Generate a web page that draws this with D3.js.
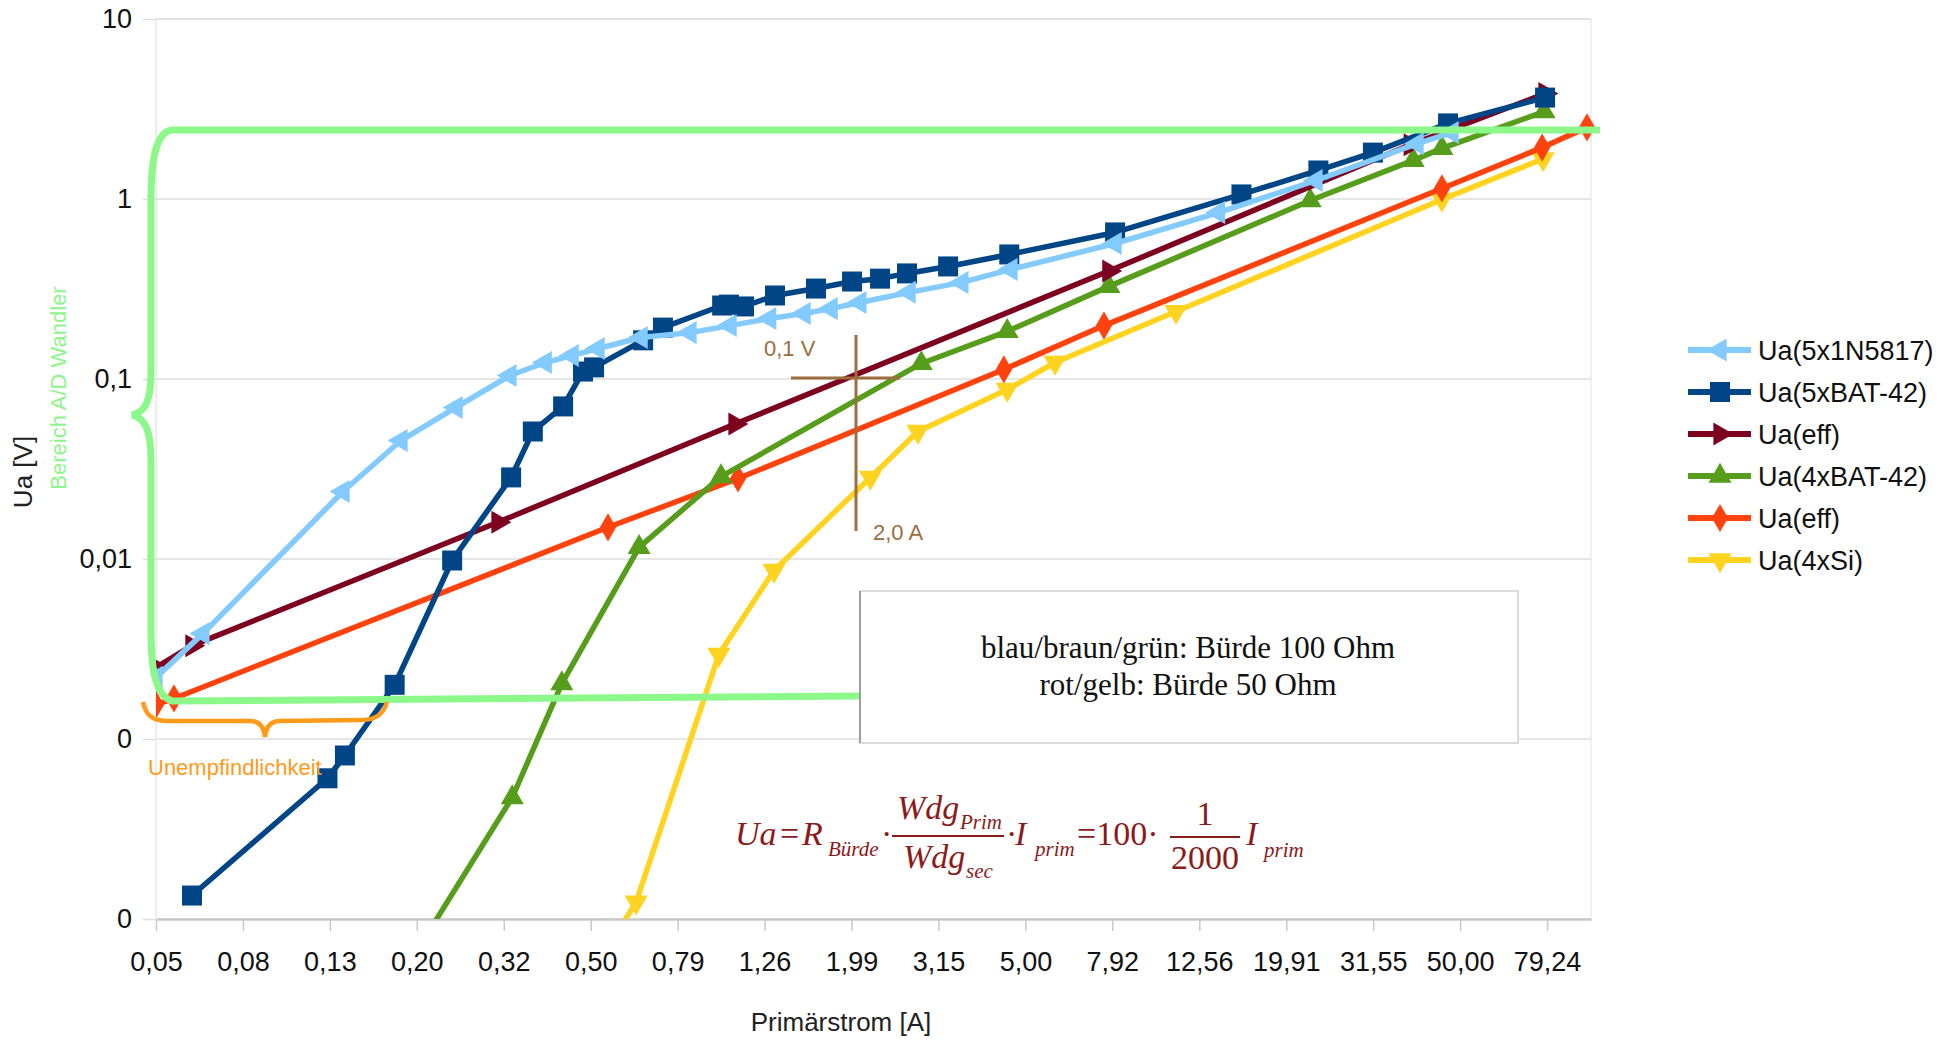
<!DOCTYPE html>
<html>
<head>
<meta charset="utf-8">
<script src="https://cdn.jsdelivr.net/npm/d3@7"></script>
<style>
  body { margin: 0; background: #ffffff; }
  svg { display: block; }
</style>
</head>
<body>
<svg id="chart" width="1954" height="1040"></svg>
<script>
// ---------------- data ----------------
const seriesNames = ["Ua(5x1N5817)", "Ua(5xBAT-42)", "Ua(eff)", "Ua(4xBAT-42)", "Ua(eff)", "Ua(4xSi)"];

const currentLightBlue = [0.05, 0.0641, 0.1346, 0.183, 0.245, 0.326, 0.393, 0.453, 0.520, 0.653, 0.846, 1.046, 1.29, 1.548, 1.786, 2.08, 2.70, 3.57, 4.63, 8.04, 13.9, 23.3, 39.8, 47.9];
const voltageLightBlue = [0.0022, 0.00385, 0.0237, 0.0455, 0.0695, 0.1046, 0.1235, 0.135, 0.1477, 0.170, 0.181, 0.198, 0.217, 0.231, 0.246, 0.266, 0.303, 0.344, 0.406, 0.566, 0.841, 1.267, 2.03, 2.34];

const currentDarkBlue = [0.0605, 0.124, 0.136, 0.177, 0.240, 0.328, 0.368, 0.432, 0.480, 0.509, 0.660, 0.733, 1.003, 1.04, 1.126, 1.327, 1.649, 1.996, 2.315, 2.67, 3.32, 4.59, 8.04, 15.7, 23.6, 31.5, 46.9, 78.4];
const voltageDarkBlue = [0.000135, 0.000605, 0.00081, 0.00200, 0.00981, 0.0284, 0.0511, 0.0704, 0.110, 0.116, 0.164, 0.193, 0.256, 0.259, 0.253, 0.291, 0.318, 0.348, 0.361, 0.386, 0.422, 0.492, 0.652, 1.06, 1.44, 1.81, 2.63, 3.66];

const currentEff100 = [0.05, 0.0605, 0.306, 1.074, 7.78, 38.4, 78.4];
const voltageEff100 = [0.0025, 0.0033, 0.0160, 0.0562, 0.398, 2.0, 3.85];

const currentGreen = [0.182, 0.330, 0.429, 0.646, 0.997, 2.88, 4.54, 7.78, 22.6, 39.0, 45.4, 78.0];
const voltageGreen = [0.000047, 0.000473, 0.00203, 0.0116, 0.0287, 0.122, 0.184, 0.327, 0.981, 1.64, 1.91, 3.06];

const currentEff50 = [0.05, 0.055, 0.548, 1.091, 4.46, 7.58, 45.4, 77.2, 97.9];
const voltageEff50 = [0.00155, 0.00168, 0.0150, 0.0280, 0.113, 0.198, 1.144, 1.93, 2.50];

const currentSi = [0.525, 0.636, 0.986, 1.32, 2.20, 2.83, 4.54, 5.85, 11.1, 45.4, 77.6];
const voltageSi = [0.000059, 0.000124, 0.00295, 0.00863, 0.0284, 0.0511, 0.0874, 0.1235, 0.237, 0.994, 1.67];

const xTickValues = [0.05, 0.07924, 0.12559, 0.19905, 0.31548, 0.5, 0.79245, 1.25594, 1.99054, 3.15479, 5.0, 7.92447, 12.5594, 19.9054, 31.5479, 50.0, 79.2447];
const xTickLabels = ["0,05", "0,08", "0,13", "0,20", "0,32", "0,50", "0,79", "1,26", "1,99", "3,15", "5,00", "7,92", "12,56", "19,91", "31,55", "50,00", "79,24"];
const yTickValues = [10, 1, 0.1, 0.01, 0.001, 0.0001];
const yTickLabels = ["10", "1", "0,1", "0,01", "0", "0"];

// ---------------- setup ----------------
const svg = d3.select("#chart");
const SANS = "'Liberation Sans', Arial, sans-serif";
const SERIF = "'Liberation Serif', 'Times New Roman', serif";

const plot = { left: 156, right: 1591, top: 19, bottom: 919 };
const x = d3.scaleLog().domain([0.05, 100]).range([plot.left, plot.right]);
const y = d3.scaleLog().domain([0.0001, 10]).range([plot.bottom, plot.top]);

const series = [
  { name: seriesNames[0], xs: currentLightBlue, ys: voltageLightBlue, color: "#83caff", shape: "left" },
  { name: seriesNames[1], xs: currentDarkBlue, ys: voltageDarkBlue, color: "#004586", shape: "square" },
  { name: seriesNames[2], xs: currentEff100, ys: voltageEff100, color: "#7e0021", shape: "right" },
  { name: seriesNames[3], xs: currentGreen, ys: voltageGreen, color: "#579d1c", shape: "up" },
  { name: seriesNames[4], xs: currentEff50, ys: voltageEff50, color: "#ff420e", shape: "diamond" },
  { name: seriesNames[5], xs: currentSi, ys: voltageSi, color: "#ffd320", shape: "down" }
];

function symbolPath(shape) {
  if (shape === "square") return d3.symbol(d3.symbolSquare, 400)();
  if (shape === "diamond") return d3.symbol(d3.symbolDiamond, 230)();
  return d3.symbol(d3.symbolTriangle, 230)();
}
function symbolRotate(shape) {
  return { left: -90, right: 90, up: 0, down: 180, square: 0, diamond: 0 }[shape];
}

// clip
svg.append("defs").append("clipPath").attr("id", "plotclip")
  .append("rect").attr("x", plot.left).attr("y", 0)
  .attr("width", 1600 - plot.left).attr("height", plot.bottom);

// frame
svg.append("rect").attr("x", plot.left).attr("y", plot.top)
  .attr("width", plot.right - plot.left).attr("height", plot.bottom - plot.top)
  .attr("fill", "#fff").attr("stroke", "#ececec").attr("stroke-width", 1.5);

// horizontal gridlines
svg.append("g").selectAll("line").data(yTickValues.slice(0, 5)).join("line")
  .attr("x1", plot.left).attr("x2", plot.right)
  .attr("y1", d => y(d)).attr("y2", d => y(d))
  .attr("stroke", "#dedede").attr("stroke-width", 1.5);

// x axis
const xAxis = svg.append("g").attr("transform", `translate(0,${plot.bottom})`)
  .call(d3.axisBottom(x).tickValues(xTickValues).tickFormat((d, i) => xTickLabels[i])
    .tickSize(12).tickSizeOuter(0).tickPadding(21));
xAxis.select(".domain").attr("stroke", "#c8c8c8").attr("stroke-width", 2.5);
xAxis.selectAll(".tick line").attr("stroke", "#c8c8c8").attr("stroke-width", 1.5);
xAxis.selectAll(".tick text").attr("font-family", SANS).attr("font-size", 27).attr("fill", "#111");

// y axis
const yAxis = svg.append("g").attr("transform", `translate(${plot.left},0)`)
  .call(d3.axisLeft(y).tickValues(yTickValues).tickFormat((d, i) => yTickLabels[i])
    .tickSize(13).tickSizeOuter(0).tickPadding(11));
yAxis.select(".domain").attr("stroke", "#ececec").attr("stroke-width", 1.5);
yAxis.selectAll(".tick line").attr("stroke", "#dedede").attr("stroke-width", 1.5);
yAxis.selectAll(".tick text").attr("font-family", SANS).attr("font-size", 27).attr("fill", "#111");

// axis titles
svg.append("text").attr("x", 841).attr("y", 1031).attr("text-anchor", "middle")
  .attr("font-family", SANS).attr("font-size", 26).attr("fill", "#222").text("Primärstrom [A]");
svg.append("text").attr("transform", "translate(32,472) rotate(-90)").attr("text-anchor", "middle")
  .attr("font-family", SANS).attr("font-size", 26).attr("fill", "#222").text("Ua [V]");
svg.append("text").attr("transform", "translate(66,388) rotate(-90)").attr("text-anchor", "middle")
  .attr("font-family", SANS).attr("font-size", 22).attr("fill", "#8ef58a").text("Bereich A/D Wandler");

// series (first series on top -> draw reversed)
const gSeries = svg.append("g").attr("clip-path", "url(#plotclip)");
const line = d3.line().x(d => x(d[0])).y(d => y(d[1]));
series.slice().reverse().forEach(s => {
  const pts = s.xs.map((v, i) => [v, s.ys[i]]);
  const g = gSeries.append("g");
  g.append("path").datum(pts).attr("d", line)
    .attr("fill", "none").attr("stroke", s.color).attr("stroke-width", 5.5)
    .attr("stroke-linejoin", "round");
  g.selectAll("path.m").data(pts).join("path").attr("class", "m")
    .attr("d", symbolPath(s.shape))
    .attr("transform", d => `translate(${x(d[0])},${y(d[1])}) rotate(${symbolRotate(s.shape)})`)
    .attr("fill", s.color);
});

// legend
const legend = svg.append("g");
series.forEach((s, i) => {
  const ly = 350 + i * 42;
  legend.append("line").attr("x1", 1688).attr("x2", 1751).attr("y1", ly).attr("y2", ly)
    .attr("stroke", s.color).attr("stroke-width", 6);
  legend.append("path").attr("d", symbolPath(s.shape))
    .attr("transform", `translate(1720,${ly}) rotate(${symbolRotate(s.shape)})`).attr("fill", s.color);
  legend.append("text").attr("x", 1758).attr("y", ly + 10)
    .attr("font-family", SANS).attr("font-size", 27).attr("fill", "#111").text(s.name);
});

// green brace "Bereich A/D Wandler"
svg.append("path")
  .attr("d", "M 1600 130 L 172 130 C 156 132, 151 160, 151 200 L 151 372 C 151 402, 145 412, 132 415 C 145 418, 151 430, 151 460 L 151 630 C 151 675, 157 696, 172 701 L 862 696")
  .attr("fill", "none").attr("stroke", "#8cf88a").attr("stroke-width", 7);

// orange brace "Unempfindlichkeit"
svg.append("path")
  .attr("d", "M 143 702 C 146 716, 153 721, 168 721 L 250 721 C 259 721, 264 727, 265 737 C 266 727, 271 721, 280 721 L 362 720 C 376 720, 384 713, 387 702")
  .attr("fill", "none").attr("stroke", "#ff9a1a").attr("stroke-width", 4.5);
svg.append("text").attr("x", 148).attr("y", 775)
  .attr("font-family", SANS).attr("font-size", 22).attr("fill", "#ff9a1a").text("Unempfindlichkeit");

// cross annotation 2,0 A / 0,1 V
const brown = "#9c6d3d";
svg.append("line").attr("x1", 791).attr("x2", 900).attr("y1", 378).attr("y2", 378)
  .attr("stroke", brown).attr("stroke-width", 3);
svg.append("line").attr("x1", 856).attr("x2", 856).attr("y1", 335).attr("y2", 531)
  .attr("stroke", brown).attr("stroke-width", 3);
svg.append("text").attr("x", 764).attr("y", 356).attr("font-family", SANS).attr("font-size", 22)
  .attr("fill", brown).text("0,1 V");
svg.append("text").attr("x", 873).attr("y", 540).attr("font-family", SANS).attr("font-size", 22)
  .attr("fill", brown).text("2,0 A");

// text box
svg.append("rect").attr("x", 860).attr("y", 591).attr("width", 658).attr("height", 152)
  .attr("fill", "#fff").attr("stroke", "#cfcfcf").attr("stroke-width", 1.5);
svg.append("line").attr("x1", 860).attr("x2", 860).attr("y1", 591).attr("y2", 743)
  .attr("stroke", "#8a8a8a").attr("stroke-width", 1.5);
svg.append("text").attr("x", 1188).attr("y", 658).attr("text-anchor", "middle")
  .attr("font-family", SERIF).attr("font-size", 31).attr("fill", "#111").text("blau/braun/grün: Bürde 100 Ohm");
svg.append("text").attr("x", 1188).attr("y", 695).attr("text-anchor", "middle")
  .attr("font-family", SERIF).attr("font-size", 31).attr("fill", "#111").text("rot/gelb: Bürde 50 Ohm");

// formula
const fColor = "#8b1a1a";
const formula = [
  ["Ua", 735, 845, 34, "italic", "start"],
  ["=", 780, 845, 34, "normal", "start"],
  ["R", 802, 845, 34, "italic", "start"],
  ["Bürde", 828, 856, 21, "italic", "start"],
  ["·", 881, 845, 34, "normal", "start"],
  ["Wdg", 897, 819, 34, "italic", "start"],
  ["Prim", 960, 829, 21, "italic", "start"],
  ["Wdg", 903, 868, 34, "italic", "start"],
  ["sec", 966, 878, 21, "italic", "start"],
  ["·", 1006, 845, 34, "normal", "start"],
  ["I", 1015, 845, 34, "italic", "start"],
  ["prim", 1035, 856, 21, "italic", "start"],
  ["=100·", 1077, 845, 34, "normal", "start"],
  ["1", 1205, 825, 34, "normal", "middle"],
  ["2000", 1205, 869, 34, "normal", "middle"],
  ["I", 1246, 845, 34, "italic", "start"],
  ["prim", 1264, 857, 21, "italic", "start"]
];
const gF = svg.append("g");
formula.forEach(f => {
  gF.append("text").attr("x", f[1]).attr("y", f[2]).attr("font-size", f[3])
    .attr("font-style", f[4]).attr("text-anchor", f[5])
    .attr("font-family", SERIF).attr("fill", fColor).text(f[0]);
});
gF.append("line").attr("x1", 892).attr("x2", 1004).attr("y1", 836).attr("y2", 836)
  .attr("stroke", fColor).attr("stroke-width", 2);
gF.append("line").attr("x1", 1170).attr("x2", 1240).attr("y1", 837).attr("y2", 837)
  .attr("stroke", fColor).attr("stroke-width", 2);
</script>
</body>
</html>
